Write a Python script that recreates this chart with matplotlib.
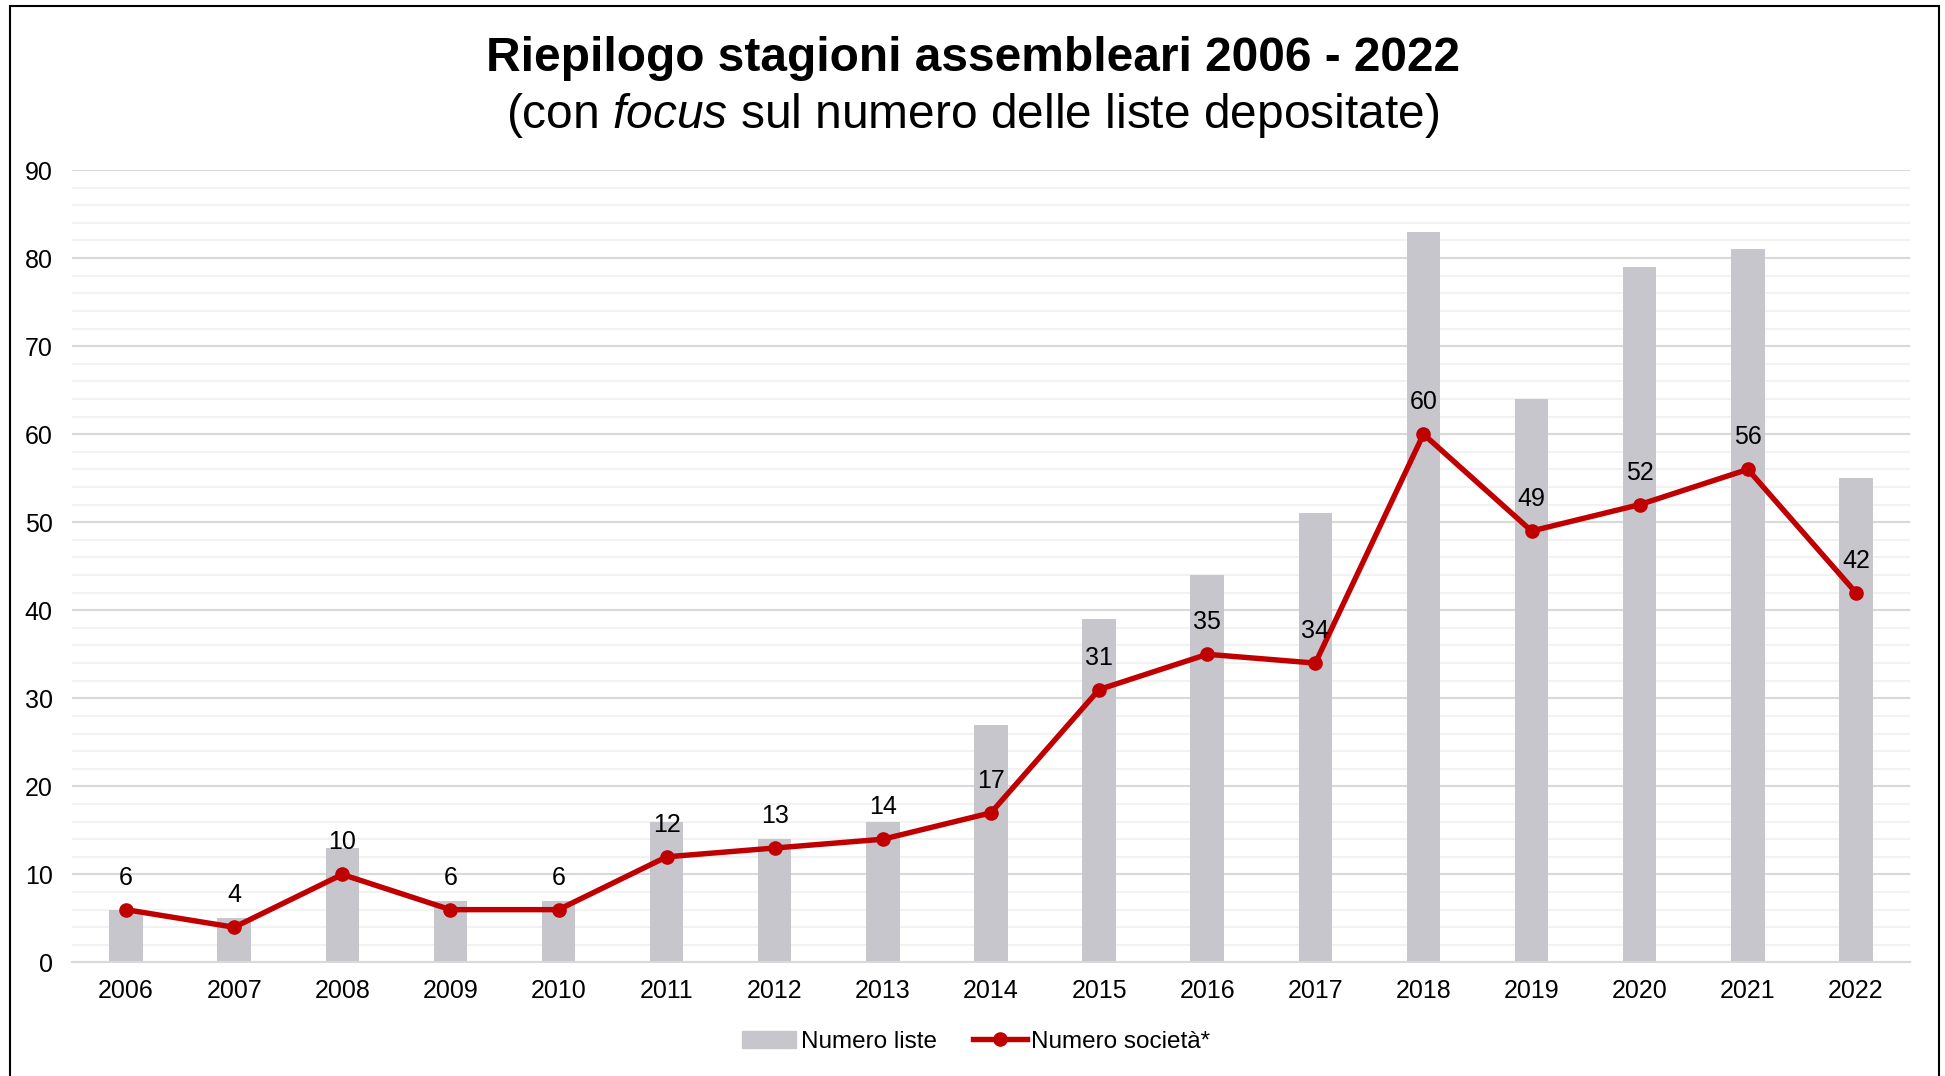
import numpy as np
import matplotlib.pyplot as plt
from matplotlib.patches import Rectangle
from matplotlib.lines import Line2D
from matplotlib.ticker import MultipleLocator

plt.rcParams['font.family'] = ['Liberation Sans', 'DejaVu Sans']
plt.rcParams['mathtext.fontset'] = 'custom'
plt.rcParams['mathtext.rm'] = 'Liberation Sans'
plt.rcParams['mathtext.it'] = 'Liberation Sans:italic'

years = ['2006', '2007', '2008', '2009', '2010', '2011', '2012', '2013', '2014',
         '2015', '2016', '2017', '2018', '2019', '2020', '2021', '2022']
liste = [6, 5, 13, 7, 7, 16, 14, 16, 27, 39, 44, 51, 83, 64, 79, 81, 55]
societa = [6, 4, 10, 6, 6, 12, 13, 14, 17, 31, 35, 34, 60, 49, 52, 56, 42]

bar_col = '#C8C6CD'
line_col = '#C00000'

fig = plt.figure(figsize=(19.45, 10.76), dpi=100)
ax = fig.add_axes([0.037, 0.1055, 0.945, 0.7365])

x = np.arange(len(years))
ax.bar(x, liste, width=0.31, color=bar_col, zorder=2)
ax.plot(x, societa, color=line_col, lw=3.9, marker='o', ms=9.5, zorder=3)

for xi, v in zip(x, societa):
    ax.annotate(str(v), (xi, v), xytext=(0, 23), textcoords='offset points',
                ha='center', va='center', fontsize=18, color='black', zorder=4)

ax.set_xlim(-0.5, len(years) - 0.5)
ax.set_ylim(0, 90)
ax.yaxis.set_major_locator(MultipleLocator(10))
ax.yaxis.set_minor_locator(MultipleLocator(2))
ax.grid(axis='y', which='minor', color='#F2F2F2', lw=1.5, zorder=0)
ax.grid(axis='y', which='major', color='#D9D9D9', lw=1.5, zorder=1)
ax.set_xticks(x)
ax.set_xticklabels(years)
ax.tick_params(axis='both', which='both', length=0, labelsize=18, pad=12)
ax.tick_params(axis='y', pad=14)
for s in ['top', 'right', 'left']:
    ax.spines[s].set_visible(False)
ax.spines['bottom'].set_color('#D9D9D9')
ax.spines['bottom'].set_linewidth(1.5)

fig.text(0.5, 0.946, 'Riepilogo stagioni assembleari 2006 - 2022', ha='center', va='center',
         fontsize=34.5, fontweight='bold')
fig.text(0.5, 0.893, '(con $\\mathit{focus}$ sul numero delle liste depositate)', ha='center', va='center',
         fontsize=34.5)

handles = [Rectangle((0, 0), 1, 1, color=bar_col),
           Line2D([], [], color=line_col, lw=3.9, marker='o', ms=9.5)]
fig.legend(handles, ['Numero liste', 'Numero società*'], loc='center', bbox_to_anchor=(0.502, 0.032),
           ncol=2, frameon=False, fontsize=17.5, handlelength=2.2, handletextpad=0.2, columnspacing=1.5)

fig.patches.append(Rectangle((0.005, -0.01), 0.992, 1.004, transform=fig.transFigure,
                             fill=False, edgecolor='black', lw=1.5))

fig.savefig('out.png', dpi=100)
